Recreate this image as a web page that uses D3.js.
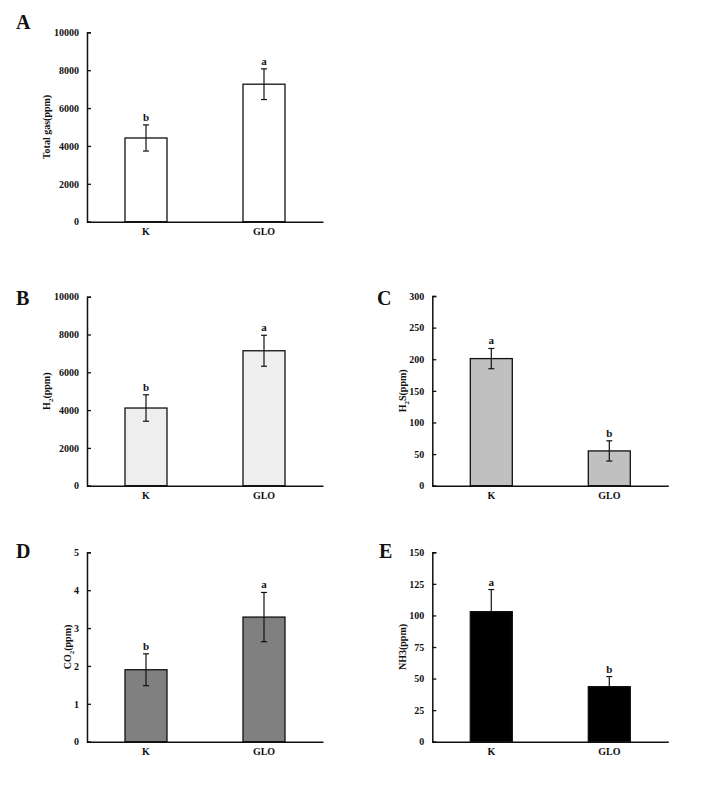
<!DOCTYPE html>
<html><head><meta charset="utf-8">
<script src="https://cdn.jsdelivr.net/npm/d3@7"></script>
<style>body{margin:0;background:#fff}svg{display:block}text{font-family:"Liberation Serif","Times New Roman",serif;font-weight:bold;fill:#111}</style>
</head><body><svg id="c" width="716" height="786"></svg>
<script>
const categories = ["K", "GLO"];
const totalGas = [4420, 7260], totalGasErr = [690, 810], totalGasSig = ["b", "a"];
const h2 = [4110, 7140], h2Err = [700, 820], h2Sig = ["b", "a"];
const h2s = [201, 55], h2sErr = [16, 16], h2sSig = ["a", "b"];
const co2 = [1.9, 3.29], co2Err = [0.42, 0.65], co2Sig = ["b", "a"];
const nh3 = [103, 43.6], nh3Err = [17.5, 8], nh3Sig = ["a", "b"];
const ticksA = [0, 2000, 4000, 6000, 8000, 10000];
const ticksC = [0, 50, 100, 150, 200, 250, 300];
const ticksD = [0, 1, 2, 3, 4, 5];
const ticksE = [0, 25, 50, 75, 100, 125, 150];

const svg = d3.select("#c");

function panel(o) {
  const g = svg.append("g");
  const x = d3.scaleBand().domain(categories).range([o.x0, o.x0 + 236]).padding(0);
  const y = d3.scaleLinear().domain([0, o.max]).range([o.yb, o.yt]);
  const bw = 42;
  // bars
  g.selectAll("rect.bar").data(o.vals).join("rect")
    .attr("x", (d, i) => x(categories[i]) + x.bandwidth() / 2 - bw / 2)
    .attr("y", d => y(d)).attr("width", bw).attr("height", d => y(0) - y(d))
    .attr("fill", o.fill).attr("stroke", "#111").attr("stroke-width", 1.3);
  // error bars
  o.vals.forEach((v, i) => {
    const cx = x(categories[i]) + x.bandwidth() / 2;
    const top = y(v + o.err[i]), bot = o.upOnly ? y(v) : y(v - o.err[i]);
    g.append("line").attr("x1", cx).attr("x2", cx).attr("y1", top).attr("y2", bot).attr("stroke", "#111").attr("stroke-width", 1.2);
    g.append("line").attr("x1", cx - 3).attr("x2", cx + 3).attr("y1", top).attr("y2", top).attr("stroke", "#111").attr("stroke-width", 1.2);
    if (!o.upOnly) g.append("line").attr("x1", cx - 3).attr("x2", cx + 3).attr("y1", bot).attr("y2", bot).attr("stroke", "#111").attr("stroke-width", 1.2);
    g.append("text").attr("x", cx).attr("y", top - 4).attr("text-anchor", "middle").attr("font-size", 11).text(o.sig[i]);
  });
  // axes
  const ya = g.append("g").attr("transform", `translate(${o.x0},0)`)
    .call(d3.axisLeft(y).tickValues(o.ticks).tickSize(-4).tickPadding(8).tickFormat(d3.format("d")));
  ya.select(".domain").attr("stroke", "#111").attr("stroke-width", 1.5);
  ya.selectAll(".tick line").attr("stroke", "#111").attr("stroke-width", 1.3);
  ya.selectAll(".tick text").attr("font-size", 10).attr("font-family", "Liberation Serif, serif").attr("font-weight", "bold").attr("fill", "#111");
  const xa = g.append("g").attr("transform", `translate(0,${o.yb})`)
    .call(d3.axisBottom(x).tickSize(0).tickPadding(6));
  xa.select(".domain").attr("stroke", "#111").attr("stroke-width", 1.5);
  xa.selectAll(".tick text").attr("font-size", 10).attr("font-family", "Liberation Serif, serif").attr("font-weight", "bold").attr("fill", "#111");
  // y label
  const lab = g.append("text").attr("transform", `translate(${o.labX},${(o.yt + o.yb) / 2}) rotate(-90)`)
    .attr("text-anchor", "middle").attr("font-size", 10);
  o.label.forEach(p => {
    const t = lab.append("tspan").text(p[0]);
    if (p[1]) t.attr("font-size", 7).attr("dy", 3);
    else if (p[2]) t.attr("dy", -3);
  });
  // panel letter
  g.append("text").attr("x", o.lx).attr("y", o.ly).attr("font-size", 20).text(o.letter);
}

panel({letter: "A", lx: 16, ly: 29, x0: 87, yt: 32.3, yb: 221.7, max: 10000, ticks: ticksA, vals: totalGas, err: totalGasErr, sig: totalGasSig, fill: "#ffffff", labX: 50, label: [["Total gas(ppm)"]]});
panel({letter: "B", lx: 16, ly: 305, x0: 87, yt: 296.7, yb: 485.7, max: 10000, ticks: ticksA, vals: h2, err: h2Err, sig: h2Sig, fill: "#eeeeee", labX: 50, label: [["H"], ["2", true], ["(ppm)", false, true]]});
panel({letter: "C", lx: 377, ly: 305, x0: 432.3, yt: 296, yb: 485.7, max: 300, ticks: ticksC, vals: h2s, err: h2sErr, sig: h2sSig, fill: "#c0c0c0", labX: 406, label: [["H"], ["2", true], ["S(ppm)", false, true]]});
panel({letter: "D", lx: 16, ly: 558, x0: 87, yt: 552.3, yb: 741.7, max: 5, ticks: ticksD, vals: co2, err: co2Err, sig: co2Sig, fill: "#808080", labX: 71, label: [["CO"], ["2", true], ["(ppm)", false, true]]});
panel({letter: "E", lx: 379, ly: 558, x0: 432.3, yt: 552.3, yb: 741.7, max: 150, ticks: ticksE, vals: nh3, err: nh3Err, sig: nh3Sig, fill: "#000000", labX: 406, label: [["NH3(ppm)"]], upOnly: true});
</script></body></html>
